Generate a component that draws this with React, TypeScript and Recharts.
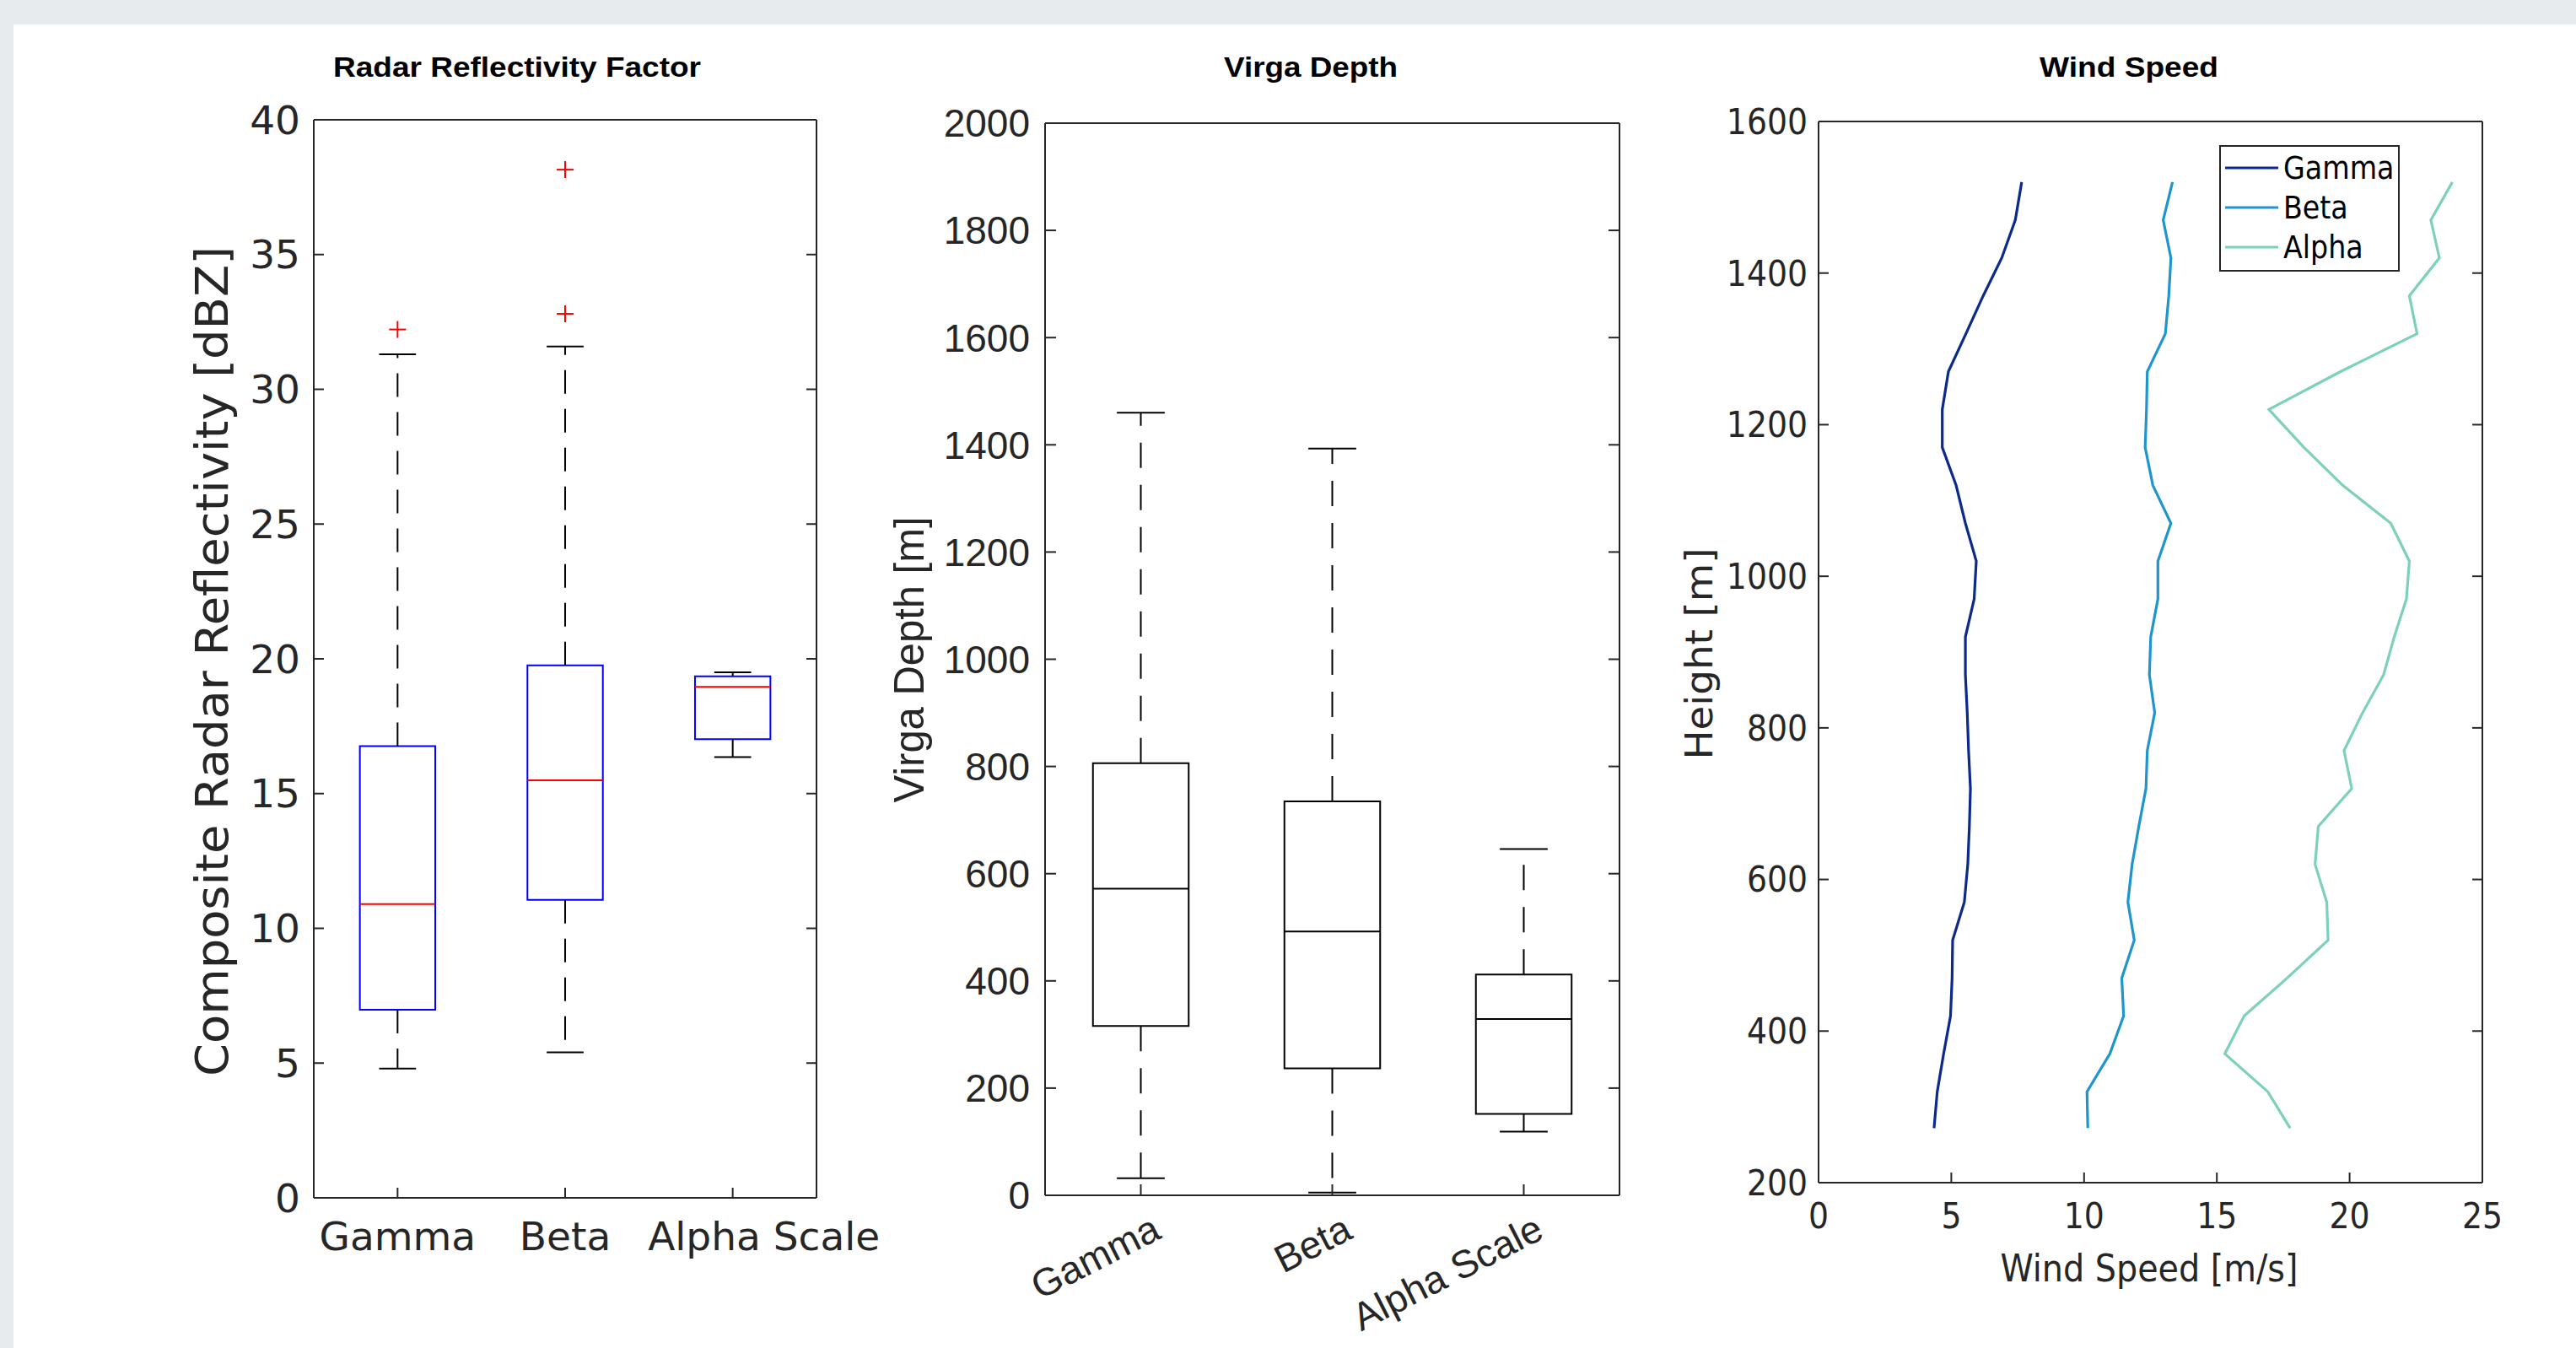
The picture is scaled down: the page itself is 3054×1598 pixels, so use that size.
import {
  ComposedChart,
  ScatterChart,
  Scatter,
  XAxis,
  YAxis,
  ReferenceArea,
  ReferenceLine,
  Customized
} from 'recharts'

// ============================================
// DATA
// ============================================

const categories = ['Gamma', 'Beta', 'Alpha Scale']
const categoryPos = [1, 2, 3]

// Radar reflectivity factor [dBZ]
const dbzLower = [4.8, 5.4, 16.35]
const dbzQ1 = [6.98, 11.06, 17.02]
const dbzMedian = [10.9, 15.49, 18.96]
const dbzQ3 = [16.76, 19.76, 19.35]
const dbzUpper = [31.3, 31.59, 19.5]
const dbzOutlierPos = [1, 2, 2]
const dbzOutlierValue = [32.22, 32.8, 38.15]
const dbzTicks = [0, 5, 10, 15, 20, 25, 30, 35, 40]

// Virga depth [m]
const virgaLower = [32, 5, 119]
const virgaQ1 = [316, 237, 152]
const virgaMedian = [572, 492, 329]
const virgaQ3 = [806, 735, 412]
const virgaUpper = [1460, 1393, 646]
const virgaTicks = [0, 200, 400, 600, 800, 1000, 1200, 1400, 1600, 1800, 2000]

// Wind speed profile
const heights = [272, 320, 370, 420, 470, 520, 570, 620, 670, 720, 770, 820, 870, 920, 970, 1020, 1070, 1120, 1170, 1220, 1270, 1320, 1370, 1420, 1470, 1520]
const gammaSpeed = [4.35, 4.47, 4.71, 4.97, 5.03, 5.05, 5.49, 5.62, 5.68, 5.72, 5.65, 5.6, 5.53, 5.53, 5.86, 5.94, 5.53, 5.18, 4.66, 4.66, 4.89, 5.55, 6.2, 6.9, 7.41, 7.65]
const betaSpeed = [10.14, 10.11, 10.97, 11.49, 11.42, 11.89, 11.65, 11.81, 12.06, 12.33, 12.38, 12.66, 12.46, 12.51, 12.78, 12.78, 13.27, 12.59, 12.3, 12.35, 12.38, 13.06, 13.19, 13.27, 12.98, 13.33]
const alphaSpeed = [17.76, 16.92, 15.3, 16.03, 17.65, 19.19, 19.14, 18.7, 18.82, 20.08, 19.79, 20.49, 21.28, 21.68, 22.14, 22.25, 21.55, 19.74, 18.28, 16.96, 19.66, 22.54, 22.25, 23.38, 23.06, 23.87]
const speedTicks = [0, 5, 10, 15, 20, 25]
const heightTicks = [200, 400, 600, 800, 1000, 1200, 1400, 1600]

const windSeries = [
  { name: 'Gamma', color: '#0b2a8a', speed: gammaSpeed },
  { name: 'Beta', color: '#1f95cd', speed: betaSpeed },
  { name: 'Alpha', color: '#7dd0bc', speed: alphaSpeed }
]

// ============================================
// STYLES
// ============================================

const AXIS = '#262626'
const DEJAVU = '"DejaVu Sans", sans-serif'
const DEJAVU_COND = '"DejaVu Sans Condensed", "DejaVu Sans", sans-serif'
const HELV = '"Liberation Sans", Arial, Helvetica, sans-serif'
const TICK = 12

const axisLine = { stroke: AXIS, strokeWidth: 2 }
const blank = () => ''

const PlusShape = (props: any) => {
  const { cx, cy } = props
  return (
    <g>
      <line x1={cx - 10} x2={cx + 10} y1={cy} y2={cy} stroke="#ff0000" strokeWidth={2} />
      <line x1={cx} x2={cx} y1={cy - 10} y2={cy + 10} stroke="#ff0000" strokeWidth={2} />
    </g>
  )
}

const NoShape = () => <g />

function boxMarks(
  id: string,
  lower: number[], q1: number[], med: number[], q3: number[], upper: number[],
  boxW: number, capW: number, boxColor: string, medColor: string, dash: string
) {
  const out: any[] = []
  categoryPos.forEach((p, i) => {
    const w = boxW / 2
    const c = capW / 2
    out.push(
      <ReferenceLine key={`${id}-wl${i}`} segment={[{ x: p, y: q1[i] }, { x: p, y: lower[i] }]}
        stroke="#000" strokeWidth={2} strokeDasharray={dash} />,
      <ReferenceLine key={`${id}-wu${i}`} segment={[{ x: p, y: q3[i] }, { x: p, y: upper[i] }]}
        stroke="#000" strokeWidth={2} strokeDasharray={dash} />,
      <ReferenceLine key={`${id}-cl${i}`} segment={[{ x: p - c, y: lower[i] }, { x: p + c, y: lower[i] }]}
        stroke="#000" strokeWidth={2} />,
      <ReferenceLine key={`${id}-cu${i}`} segment={[{ x: p - c, y: upper[i] }, { x: p + c, y: upper[i] }]}
        stroke="#000" strokeWidth={2} />,
      <ReferenceArea key={`${id}-b${i}`} x1={p - w} x2={p + w} y1={q1[i]} y2={q3[i]}
        fill="none" fillOpacity={0} stroke={boxColor} strokeWidth={2} />,
      <ReferenceLine key={`${id}-m${i}`} segment={[{ x: p - w, y: med[i] }, { x: p + w, y: med[i] }]}
        stroke={medColor} strokeWidth={2} />
    )
  })
  return out
}

const Title = ({ x, text, len }: { x: number; text: string; len: number }) => (
  <text x={x} y={91} textAnchor="middle" fontFamily={HELV} fontWeight="bold" fontSize={34}
    fill="#000" textLength={len} lengthAdjust="spacingAndGlyphs">{text}</text>
)

const VLabel = ({ x, y, text, len, font, size }: any) => (
  <text transform={`translate(${x},${y}) rotate(-90)`} textAnchor="middle" fontFamily={font}
    fontSize={size} fill={AXIS} textLength={len} lengthAdjust="spacingAndGlyphs">{text}</text>
)

// last label sits a little right of its tick in the original
const labelShift = [0, 0, 37]

const FlatTick = (props: any) => {
  const { x, y, payload } = props
  const i = payload.value - 1
  return (
    <text x={x + labelShift[i]} y={y} dy="0.71em" textAnchor="middle" fontFamily={DEJAVU}
      fontSize={47} fill={AXIS}>{categories[i]}</text>
  )
}

const RotatedTick = (props: any) => {
  const { x, y, payload } = props
  return (
    <text transform={`translate(${x + 26},${y + 50}) rotate(-27)`} textAnchor="end"
      fontFamily={HELV} fontSize={46} fill={AXIS}>{categories[payload.value - 1]}</text>
  )
}

// ============================================
// PANELS
// ============================================

const ReflectivityPanel = () => {
  const outliers = dbzOutlierPos.map((p, i) => ({ x: p, y: dbzOutlierValue[i] }))
  return (
    <ComposedChart width={1090} height={1598} margin={{ top: 141, right: 121, bottom: 0, left: 0 }}>
      <XAxis type="number" dataKey="x" domain={[0.5, 3.5]} ticks={categoryPos} interval={0}
        allowDataOverflow height={178} tickSize={-TICK} tickMargin={TICK + 29} axisLine={axisLine}
        tickLine={axisLine} tick={<FlatTick />} />
      <XAxis xAxisId="top" orientation="top" type="number" domain={[0.5, 3.5]} ticks={categoryPos}
        interval={0} allowDataOverflow height={1} tickFormatter={blank} tickSize={-TICK}
        axisLine={axisLine} tickLine={axisLine} />
      <YAxis type="number" dataKey="y" domain={[0, 40]} ticks={dbzTicks} interval={0} allowDataOverflow
        width={372} tickSize={-TICK} tickMargin={TICK + 16} axisLine={axisLine} tickLine={axisLine}
        tick={{ fill: AXIS, fontSize: 47, fontFamily: DEJAVU }} />
      <YAxis yAxisId="right" orientation="right" type="number" domain={[0, 40]} ticks={dbzTicks}
        interval={0} allowDataOverflow width={1} tickFormatter={blank} tickSize={-TICK}
        axisLine={axisLine} tickLine={axisLine} />
      {boxMarks('dbz', dbzLower, dbzQ1, dbzMedian, dbzQ3, dbzUpper, 0.45, 0.22, '#0000ff', '#ff0000', '28 18')}
      <Scatter data={outliers} shape={PlusShape} isAnimationActive={false} />
      <Customized component={() => (
        <g>
          <Title x={613} text="Radar Reflectivity Factor" len={436} />
          <VLabel x={270} y={784} text="Composite Radar Reflectivity [dBZ]" len={984} font={DEJAVU} size={54} />
        </g>
      )} />
    </ComposedChart>
  )
}

const VirgaPanel = () => {
  const centers = categoryPos.map((p, i) => ({ x: p, y: virgaMedian[i] }))
  return (
    <ComposedChart width={960} height={1598} margin={{ top: 145, right: 79, bottom: 0, left: 0 }}>
      <XAxis type="number" dataKey="x" domain={[0.5, 3.5]} ticks={categoryPos} interval={0}
        allowDataOverflow height={181} tickSize={-13} tickMargin={13} axisLine={axisLine}
        tickLine={axisLine} tick={<RotatedTick />} />
      <XAxis xAxisId="top" orientation="top" type="number" domain={[0.5, 3.5]} ticks={categoryPos}
        interval={0} allowDataOverflow height={1} tickFormatter={blank} tickSize={-13}
        axisLine={axisLine} tickLine={axisLine} />
      <YAxis type="number" dataKey="y" domain={[0, 2000]} ticks={virgaTicks} interval={0} allowDataOverflow
        width={199} tickSize={-13} tickMargin={13 + 18} axisLine={axisLine} tickLine={axisLine}
        tick={{ fill: AXIS, fontSize: 46, fontFamily: HELV }} />
      <YAxis yAxisId="right" orientation="right" type="number" domain={[0, 2000]} ticks={virgaTicks}
        interval={0} allowDataOverflow width={1} tickFormatter={blank} tickSize={-13}
        axisLine={axisLine} tickLine={axisLine} />
      {boxMarks('virga', virgaLower, virgaQ1, virgaMedian, virgaQ3, virgaUpper, 0.5, 0.25, '#000', '#000', '30 20')}
      <Scatter data={centers} shape={NoShape} isAnimationActive={false} />
      <Customized component={() => (
        <g>
          <Title x={514} text="Virga Depth" len={206} />
          <VLabel x={55} y={782} text="Virga Depth [m]" len={339} font={HELV} size={50} />
        </g>
      )} />
    </ComposedChart>
  )
}

// chart starts at page x 1960
const WindPanel = () => (
  <ScatterChart width={1094} height={1598} margin={{ top: 143, right: 110, bottom: 0, left: 0 }}>
    <XAxis type="number" dataKey="x" domain={[0, 25]} ticks={speedTicks} interval={0} allowDataOverflow
      height={196} tickSize={-TICK} tickMargin={TICK + 24} axisLine={axisLine} tickLine={axisLine}
      tick={{ fill: AXIS, fontSize: 42, fontFamily: DEJAVU_COND, fontStretch: 'condensed' }} />
    <XAxis xAxisId="top" orientation="top" type="number" domain={[0, 25]} ticks={speedTicks}
      interval={0} allowDataOverflow height={1} tickFormatter={blank} tickSize={-TICK}
      axisLine={axisLine} tickLine={axisLine} />
    <YAxis type="number" dataKey="y" domain={[200, 1600]} ticks={heightTicks} interval={0} allowDataOverflow
      width={196} tickSize={-TICK} tickMargin={TICK + 13} axisLine={axisLine} tickLine={axisLine}
      tick={{ fill: AXIS, fontSize: 42, fontFamily: DEJAVU_COND, fontStretch: 'condensed' }} />
    <YAxis yAxisId="right" orientation="right" type="number" domain={[200, 1600]} ticks={heightTicks}
      interval={0} allowDataOverflow width={1} tickFormatter={blank} tickSize={-TICK}
      axisLine={axisLine} tickLine={axisLine} />
    {windSeries.map((s) => (
      <Scatter
        key={s.name}
        name={s.name}
        data={heights.map((h, i) => ({ x: s.speed[i], y: h }))}
        fill={s.color}
        line={{ stroke: s.color, strokeWidth: 3.2 }}
        lineType="joint"
        shape={NoShape}
        isAnimationActive={false}
      />
    ))}
    <Customized component={() => (
      <g>
        <Title x={564} text="Wind Speed" len={212} />
        <VLabel x={70} y={775} text="Height [m]" len={251} font={DEJAVU_COND} size={44} />
        <text x={588} y={1519} textAnchor="middle" fontFamily={DEJAVU_COND} fontSize={44} fill={AXIS}
          textLength={353} lengthAdjust="spacingAndGlyphs">Wind Speed [m/s]</text>
        <rect x={672} y={173} width={212} height={148} fill="#fff" stroke={AXIS} strokeWidth={2} />
        {windSeries.map((s, i) => (
          <g key={s.name}>
            <line x1={678} x2={741} y1={199 + i * 47} y2={199 + i * 47} stroke={s.color} strokeWidth={3.2} />
            <text x={747} y={199 + i * 47 + 13} fontFamily={DEJAVU_COND} fontSize={37} fill="#000">{s.name}</text>
          </g>
        ))}
      </g>
    )} />
  </ScatterChart>
)

export default function App() {
  return (
    <div style={{ position: 'absolute', left: 0, top: 0, width: 3054, height: 1598, background: '#e8ebee', overflow: 'hidden' }}>
      <div style={{ position: 'absolute', left: 16, top: 29, right: 0, bottom: 0, background: '#fff' }} />
      <div style={{ position: 'absolute', left: 0, top: 0 }}><ReflectivityPanel /></div>
      <div style={{ position: 'absolute', left: 1040, top: 0 }}><VirgaPanel /></div>
      <div style={{ position: 'absolute', left: 1960, top: 0 }}><WindPanel /></div>
    </div>
  )
}
